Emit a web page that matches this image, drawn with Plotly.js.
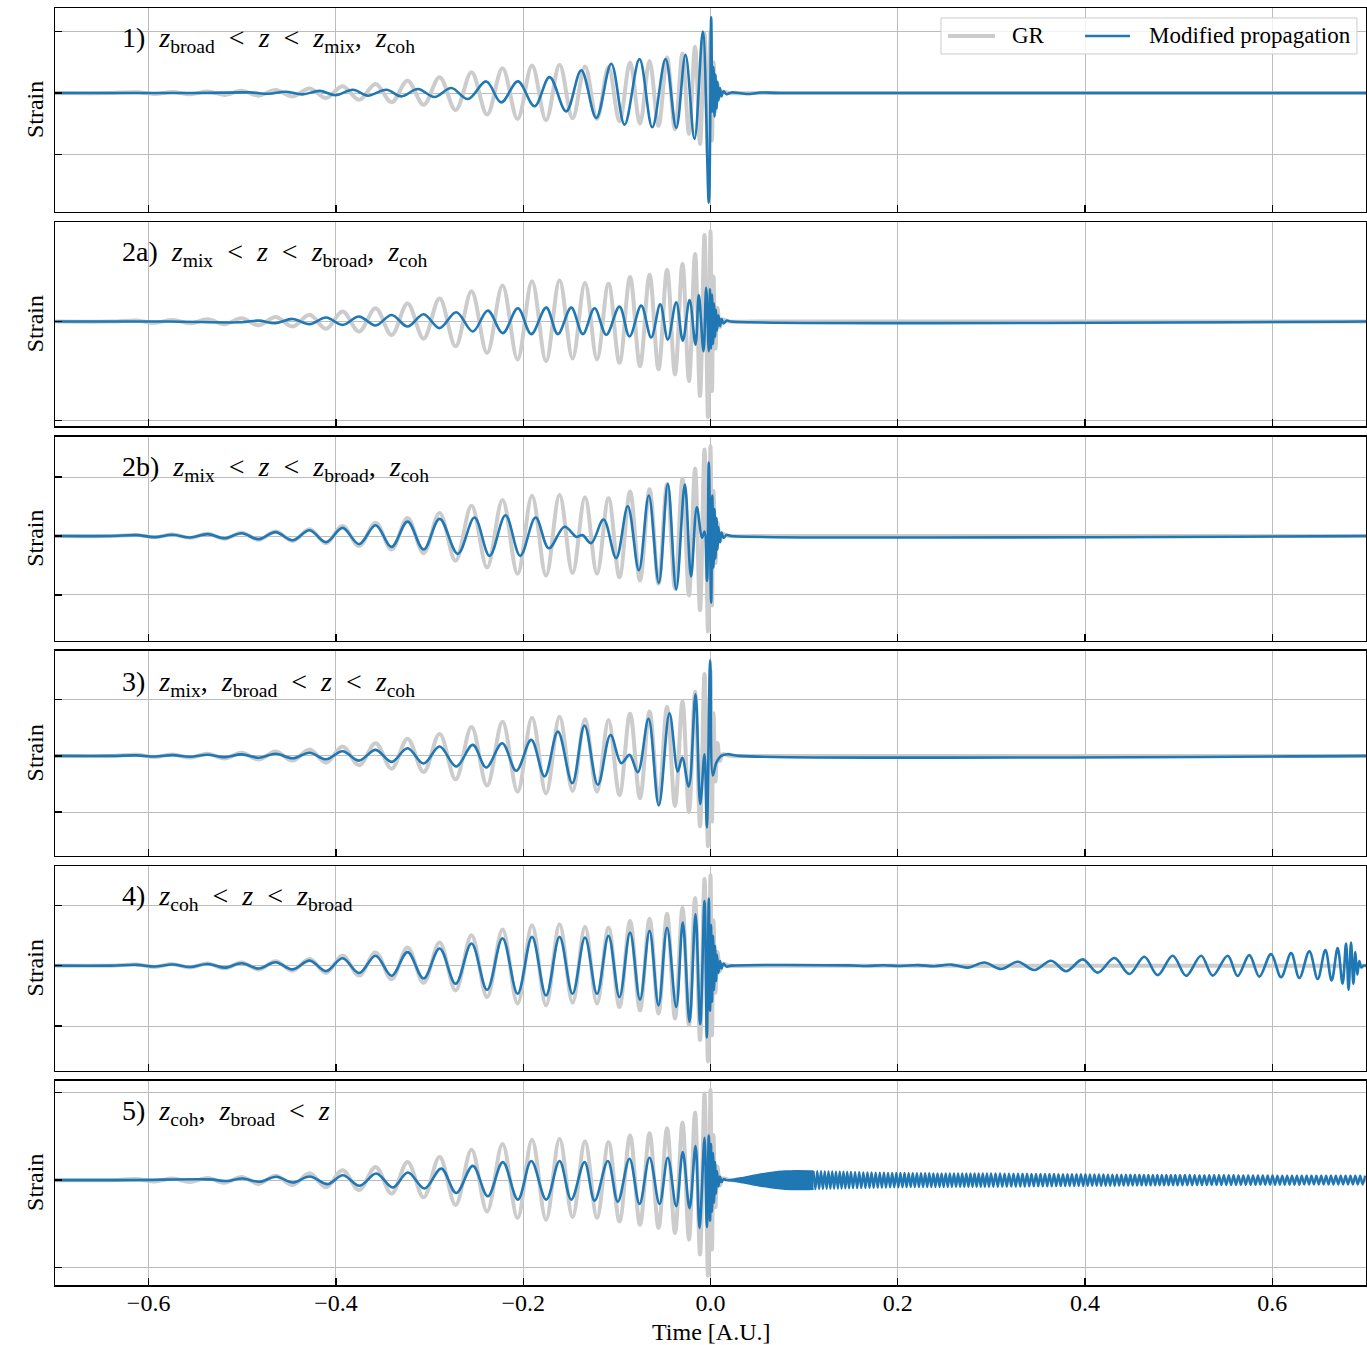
<!DOCTYPE html>
<html><head><meta charset="utf-8">
<script src="https://cdn.plot.ly/plotly-3.0.1.min.js"></script>
<style>body{margin:0;background:#fff}#chart{width:1367px;height:1345px}</style>
</head><body><div id="chart"></div>
<script>
// ---------- data (extrema; time in A.U., strain in units of the GR peak) ----------
const timeRange = [-0.7, 0.7];
const xTicks = [-0.6, -0.4, -0.2, 0.0, 0.2, 0.4, 0.6];
const LT = "&nbsp;&nbsp;&lt;&nbsp;&nbsp;";
const panelLabels = [
  "1)&nbsp; <i>z</i><sub>broad</sub>"+LT+"<i>z</i>"+LT+"<i>z</i><sub>mix</sub>,&nbsp; <i>z</i><sub>coh</sub>",
  "2a)&nbsp; <i>z</i><sub>mix</sub>"+LT+"<i>z</i>"+LT+"<i>z</i><sub>broad</sub>,&nbsp; <i>z</i><sub>coh</sub>",
  "2b)&nbsp; <i>z</i><sub>mix</sub>"+LT+"<i>z</i>"+LT+"<i>z</i><sub>broad</sub>,&nbsp; <i>z</i><sub>coh</sub>",
  "3)&nbsp; <i>z</i><sub>mix</sub>,&nbsp; <i>z</i><sub>broad</sub>"+LT+"<i>z</i>"+LT+"<i>z</i><sub>coh</sub>",
  "4)&nbsp; <i>z</i><sub>coh</sub>"+LT+"<i>z</i>"+LT+"<i>z</i><sub>broad</sub>",
  "5)&nbsp; <i>z</i><sub>coh</sub>,&nbsp; <i>z</i><sub>broad</sub>"+LT+"<i>z</i>"
];
const seriesNames = ["GR", "Modified propagation"];

// GR waveform
const grT = [-0.70,-0.64,-0.6128,-0.5936,-0.5744,-0.5557,-0.5370,-0.5189,-0.5007,-0.4826,-0.4644,-0.4463,-0.4281,-0.4105,-0.3929,-0.3753,-0.3576,-0.3406,-0.3235,-0.3064,-0.2893,-0.2722,-0.2552,-0.2386,-0.2221,-0.2060,-0.1906,-0.1756,-0.1612,-0.1473,-0.1340,-0.1212,-0.1089,-0.0972,-0.0859,-0.0753,-0.0651,-0.0555,-0.0464,-0.0379,-0.0299,-0.0230,-0.0165,-0.0112,-0.0064,-0.0027,0,0.0016,0.0032,0.0053,0.0075,0.0101,0.0128,0.0203,0.05,0.70];
const grH = [0,0,0.012,-0.014,0.017,-0.02,0.025,-0.03,0.036,-0.042,0.05,-0.055,0.075,-0.08,0.11,-0.11,0.147,-0.15,0.2,-0.19,0.256,-0.275,0.337,-0.348,0.4,-0.42,0.447,-0.44,0.458,-0.41,0.43,-0.42,0.42,-0.458,0.495,-0.495,0.52,-0.53,0.575,-0.586,0.64,-0.66,0.75,-0.824,0.96,-1.06,1.0,-0.77,0.5,-0.3,0.15,-0.06,0.02,0,0,0];

// Panel 1 modified propagation
const mp1T = [-0.70,-0.55,-0.4922,-0.4719,-0.4537,-0.4356,-0.4174,-0.4004,-0.3819,-0.3659,-0.3462,-0.3302,-0.3125,-0.2947,-0.2768,-0.2591,-0.2395,-0.2235,-0.2057,-0.1879,-0.1719,-0.1541,-0.1380,-0.1220,-0.1060,-0.0918,-0.0758,-0.0622,-0.0480,-0.0366,-0.0267,-0.0171,-0.0082,-0.0018,0.0007,0.0019,0.0032,0.0043,0.0053,0.0064,0.0075,0.0085,0.0101,0.0117,0.0139,0.0171,0.0224,0.031,0.0416,0.0544,0.0737,0.70];
const mp1H = [0,0,0.01,-0.012,0.02,-0.022,0.035,-0.035,0.054,-0.043,0.054,-0.054,0.065,-0.065,0.081,-0.097,0.188,-0.151,0.188,-0.215,0.258,-0.296,0.366,-0.403,0.473,-0.511,0.548,-0.554,0.548,-0.565,0.618,-0.742,0.995,-1.774,1.226,-0.3,0.42,-0.38,0.3,-0.25,0.18,-0.12,0.08,-0.05,0.03,-0.02,0.01,0,-0.016,0.008,0,0];

// Panel 2a
const mp2aT = [-0.70,-0.58,-0.5007,-0.4826,-0.4644,-0.4463,-0.4281,-0.4105,-0.3929,-0.3753,-0.3576,-0.3406,-0.3235,-0.3064,-0.2893,-0.2715,-0.2538,-0.2378,-0.2218,-0.2057,-0.1914,-0.1754,-0.1630,-0.1487,-0.1363,-0.1238,-0.1113,-0.0972,-0.0865,-0.0740,-0.0633,-0.0537,-0.0456,-0.0366,-0.0296,-0.0224,-0.0160,-0.0125,-0.0075,-0.0046,-0.0018,-0.0005,0.0005,0.0016,0.0027,0.0037,0.0048,0.0059,0.0069,0.0085,0.0101,0.0117,0.0139,0.0171,0.0224,0.70];
const mp2aH = [0,0,-0.008,0.01,-0.018,0.029,-0.029,0.044,-0.037,0.055,-0.044,0.073,-0.055,0.081,-0.073,0.103,-0.11,0.121,-0.128,0.147,-0.139,0.154,-0.139,0.154,-0.139,0.147,-0.147,0.165,-0.165,0.176,-0.176,0.19,-0.2,0.212,-0.212,0.238,-0.256,0.293,-0.33,0.374,-0.33,0.36,-0.3,0.3,-0.25,0.2,-0.17,0.13,-0.1,0.07,-0.05,0.03,-0.02,0.01,0,0];

// Panel 2b
const mp2bT = [-0.70,-0.64,-0.6128,-0.5936,-0.5744,-0.5557,-0.5370,-0.5189,-0.5007,-0.4826,-0.4644,-0.4463,-0.4281,-0.4105,-0.3929,-0.3753,-0.3576,-0.3406,-0.3235,-0.3064,-0.2893,-0.2698,-0.2520,-0.2359,-0.2189,-0.2032,-0.1868,-0.1726,-0.1559,-0.1431,-0.1367,-0.1274,-0.1142,-0.1007,-0.0883,-0.0765,-0.0659,-0.0552,-0.0456,-0.0366,-0.0274,-0.0208,-0.0146,-0.0091,-0.0064,-0.0037,-0.0018,0.0007,0.0019,0.0032,0.0043,0.0053,0.0064,0.0075,0.0085,0.0101,0.0117,0.0139,0.0171,0.0224,0.70];
const mp2bH = [0,0,0.01,-0.012,0.014,-0.017,0.021,-0.025,0.03,-0.035,0.043,-0.047,0.064,-0.068,0.09,-0.09,0.12,-0.12,0.16,-0.15,0.19,-0.198,0.205,-0.22,0.231,-0.22,0.205,-0.136,0.103,-0.01,0.01,-0.08,0.183,-0.245,0.33,-0.38,0.45,-0.52,0.58,-0.593,0.571,-0.45,0.32,-0.02,0.05,-0.5,0.817,-0.74,0.45,-0.35,0.3,-0.25,0.2,-0.15,0.1,-0.07,0.04,-0.02,0.01,0,0];

// Panel 3
const mp3T = [-0.70,-0.64,-0.6128,-0.5936,-0.5744,-0.5557,-0.5370,-0.5189,-0.5007,-0.4826,-0.4644,-0.4463,-0.4281,-0.4105,-0.3929,-0.3753,-0.3576,-0.3406,-0.3235,-0.3064,-0.2893,-0.2715,-0.2538,-0.2395,-0.2224,-0.2074,-0.1914,-0.1772,-0.1630,-0.1476,-0.1345,-0.1203,-0.1068,-0.0953,-0.0865,-0.0776,-0.0662,-0.0552,-0.0438,-0.0349,-0.0302,-0.0232,-0.0160,-0.0110,-0.0064,-0.0039,-0.0003,0.0025,0.0061,0.0114,0.0181,0.031,0.70];
const mp3H = [0,0,0.006,-0.007,0.009,-0.01,0.013,-0.015,0.018,-0.021,0.025,-0.028,0.037,-0.04,0.055,-0.055,0.07,-0.07,0.09,-0.09,0.11,-0.124,0.129,-0.136,0.148,-0.175,0.187,-0.241,0.284,-0.319,0.354,-0.339,0.245,-0.085,0.012,-0.191,0.433,-0.58,0.498,-0.183,-0.019,-0.358,0.72,-0.565,0.019,-0.838,1.12,-0.23,-0.085,0,0.02,0,0];

// Panel 4 (includes the delayed copy)
const mp4T = [-0.70,-0.64,-0.6128,-0.5936,-0.5744,-0.5557,-0.5370,-0.5189,-0.5007,-0.4826,-0.4644,-0.4463,-0.4281,-0.4105,-0.3929,-0.3753,-0.3576,-0.3406,-0.3235,-0.3064,-0.2893,-0.2722,-0.2552,-0.2386,-0.2221,-0.2060,-0.1906,-0.1756,-0.1612,-0.1473,-0.1340,-0.1212,-0.1089,-0.0972,-0.0859,-0.0753,-0.0651,-0.0555,-0.0464,-0.0366,-0.0296,-0.0224,-0.0160,-0.0110,-0.0064,-0.0039,-0.0018,-0.0005,0.0005,0.0016,0.0027,0.0037,0.0048,0.0059,0.0069,0.0085,0.0101,0.0117,0.0139,0.0171,0.0224,0.1484,0.1665,0.1847,0.2028,0.2213,0.2391,0.2570,0.2747,0.2925,0.3104,0.3281,0.3459,0.3637,0.3797,0.3975,0.4135,0.4313,0.4473,0.4633,0.4775,0.4936,0.5079,0.5239,0.5363,0.5523,0.5629,0.5754,0.5861,0.5986,0.6093,0.6200,0.6288,0.6395,0.6484,0.6566,0.6633,0.6697,0.6750,0.6787,0.6814,0.6840,0.6865,0.6886,0.6907,0.6929,0.6950,0.6971,0.70];
const mp4H = [0,0,0.009,-0.01,0.013,-0.015,0.019,-0.022,0.027,-0.031,0.038,-0.041,0.056,-0.06,0.082,-0.082,0.11,-0.112,0.15,-0.142,0.19,-0.2,0.245,-0.267,0.304,-0.311,0.319,-0.33,0.319,-0.311,0.311,-0.311,0.33,-0.348,0.366,-0.377,0.385,-0.44,0.42,-0.458,0.476,-0.623,0.568,-0.648,0.714,-0.795,0.744,-0.5,0.45,-0.4,0.33,-0.27,0.22,-0.17,0.12,-0.08,0.05,-0.03,0.02,-0.01,0,0.003,-0.003,0.004,-0.004,0.006,-0.006,0.012,-0.022,0.035,-0.037,0.044,-0.048,0.055,-0.062,0.07,-0.077,0.084,-0.092,0.099,-0.105,0.11,-0.112,0.11,-0.11,0.11,-0.114,0.117,-0.121,0.128,-0.128,0.139,-0.136,0.158,-0.147,0.172,-0.165,0.194,-0.2,0.245,-0.267,0.256,-0.2,0.15,-0.1,0.05,-0.02,0,0];

// Panel 5 (inspiral + merger)
const mp5T = [-0.70,-0.62,-0.5349,-0.5167,-0.4997,-0.4815,-0.4637,-0.4459,-0.4281,-0.4086,-0.3926,-0.3747,-0.3569,-0.3392,-0.3232,-0.3053,-0.2875,-0.2715,-0.2538,-0.2378,-0.2218,-0.2057,-0.1914,-0.1754,-0.1612,-0.1487,-0.1345,-0.1238,-0.1096,-0.0990,-0.0865,-0.0758,-0.0651,-0.0544,-0.0456,-0.0366,-0.0296,-0.0224,-0.0160,-0.0117,-0.0064,-0.0039,-0.0018,-0.0005,0.0005,0.0016,0.0027,0.0037,0.0048,0.0059,0.0069,0.0085,0.0101,0.0117,0.0139,0.0171];
const mp5H = [0,0,0.008,-0.01,0.018,-0.018,0.037,-0.026,0.04,-0.044,0.055,-0.062,0.073,-0.081,0.084,-0.092,0.128,-0.143,0.158,-0.179,0.2,-0.216,0.212,-0.216,0.212,-0.216,0.2,-0.227,0.212,-0.238,0.238,-0.264,0.249,-0.264,0.249,-0.289,0.311,-0.311,0.377,-0.531,0.469,-0.52,0.495,-0.45,0.4,-0.35,0.3,-0.25,0.2,-0.15,0.1,-0.07,0.04,-0.02,0.01,0];
// Panel 5 post-merger: dense onset read as an envelope band
const bandT = [0.015,0.024,0.035,0.05,0.065,0.08,0.092,0.11];
const bandEnv = [0,0.01,0.03,0.06,0.085,0.1,0.105,0.1];
// Panel 5 post-merger: resolved oscillation extrema
const tailT = [
0.1100,0.1120,0.1140,0.1160,0.1180,0.1200,0.1220,0.1240,0.1260,0.1280,
0.1300,0.1320,0.1340,0.1360,0.1380,0.1400,0.1420,0.1440,0.1460,0.1480,
0.1500,0.1522,0.1544,0.1566,0.1588,0.1610,0.1632,0.1654,0.1676,0.1698,
0.1720,0.1742,0.1764,0.1786,0.1808,0.1830,0.1852,0.1874,0.1896,0.1918,
0.1940,0.1962,0.1984,0.2006,0.2028,0.2050,0.2072,0.2094,0.2116,0.2138,
0.2160,0.2182,0.2204,0.2226,0.2248,0.2270,0.2292,0.2314,0.2336,0.2358,
0.2380,0.2402,0.2424,0.2446,0.2468,0.2490,0.2512,0.2534,0.2556,0.2578,
0.2600,0.2622,0.2644,0.2666,0.2688,0.2710,0.2732,0.2754,0.2776,0.2798,
0.2820,0.2842,0.2864,0.2886,0.2908,0.2930,0.2952,0.2974,0.2996,
0.3020,0.3044,0.3068,0.3092,0.3116,0.3140,0.3164,0.3188,0.3212,0.3236,
0.3260,0.3284,0.3308,0.3332,0.3356,0.3380,0.3404,0.3428,0.3452,0.3476,
0.3500,0.3524,0.3548,0.3572,0.3596,0.3620,0.3644,0.3668,0.3692,0.3716,
0.3740,0.3764,0.3788,0.3812,0.3836,0.3860,0.3884,0.3908,0.3932,0.3956,
0.3980,0.4004,0.4028,0.4052,0.4076,0.4100,0.4124,0.4148,0.4172,0.4196,
0.4220,0.4244,0.4268,0.4292,0.4316,0.4340,0.4364,0.4388,0.4412,0.4436,
0.4460,0.4484,0.4508,0.4532,0.4556,0.4580,0.4604,0.4628,0.4652,0.4676,
0.4700,0.4724,0.4748,0.4772,0.4796,0.4820,0.4844,0.4868,0.4892,0.4916,
0.4940,0.4964,0.4988,
0.5014,0.5040,0.5066,0.5092,0.5118,0.5144,0.5170,0.5196,0.5222,0.5248,
0.5274,0.5300,0.5326,0.5352,0.5378,0.5404,0.5430,0.5456,0.5482,0.5508,
0.5534,0.5560,0.5586,0.5612,0.5638,0.5664,0.5690,0.5716,0.5742,0.5768,
0.5794,0.5820,0.5846,0.5872,0.5898,0.5924,0.5950,0.5976,0.6002,0.6028,
0.6054,0.6080,0.6106,0.6132,0.6158,0.6184,0.6210,0.6236,0.6262,0.6288,
0.6314,0.6340,0.6366,0.6392,0.6418,0.6444,0.6470,0.6496,0.6522,0.6548,
0.6574,0.6600,0.6626,0.6652,0.6678,0.6704,0.6730,0.6756,0.6782,0.6808,
0.6834,0.6860,0.6886,0.6912,0.6938,0.6964,0.6990];
const tailH = [
0.1,-0.1,0.1,-0.099,0.099,-0.098,0.098,-0.097,0.097,-0.096,
0.096,-0.095,0.095,-0.094,0.094,-0.093,0.093,-0.092,0.092,-0.091,
0.09,-0.09,0.089,-0.089,0.088,-0.088,0.087,-0.087,0.086,-0.086,
0.085,-0.085,0.084,-0.084,0.083,-0.083,0.082,-0.082,0.081,-0.081,
0.08,-0.08,0.08,-0.08,0.079,-0.079,0.079,-0.079,0.078,-0.078,
0.078,-0.078,0.078,-0.078,0.077,-0.077,0.077,-0.077,0.077,-0.077,
0.076,-0.076,0.076,-0.076,0.076,-0.076,0.076,-0.076,0.075,-0.075,
0.075,-0.075,0.075,-0.075,0.075,-0.075,0.075,-0.075,0.075,-0.075,
0.075,-0.075,0.075,-0.075,0.075,-0.075,0.075,-0.075,0.075,
-0.074,0.074,-0.074,0.074,-0.073,0.073,-0.073,0.073,-0.072,0.072,
-0.072,0.072,-0.071,0.071,-0.071,0.071,-0.070,0.070,-0.070,0.070,
-0.069,0.069,-0.069,0.069,-0.068,0.068,-0.068,0.068,-0.067,0.067,
-0.067,0.067,-0.066,0.066,-0.066,0.066,-0.065,0.065,-0.065,0.065,
-0.065,0.065,-0.064,0.064,-0.064,0.064,-0.063,0.063,-0.063,0.063,
-0.062,0.062,-0.062,0.062,-0.062,0.062,-0.061,0.061,-0.061,0.061,
-0.060,0.060,-0.060,0.060,-0.060,0.060,-0.059,0.059,-0.059,0.059,
-0.059,0.059,-0.058,0.058,-0.058,0.058,-0.058,0.058,-0.058,0.058,
-0.058,0.058,-0.058,
0.057,-0.057,0.057,-0.057,0.057,-0.057,0.056,-0.056,0.056,-0.056,
0.056,-0.056,0.055,-0.055,0.055,-0.055,0.055,-0.055,0.054,-0.054,
0.054,-0.054,0.054,-0.054,0.053,-0.053,0.053,-0.053,0.053,-0.053,
0.053,-0.053,0.052,-0.052,0.052,-0.052,0.052,-0.052,0.052,-0.052,
0.051,-0.051,0.051,-0.051,0.051,-0.051,0.051,-0.051,0.051,-0.051,
0.050,-0.050,0.050,-0.050,0.050,-0.050,0.050,-0.050,0.050,-0.050,
0.050,-0.050,0.050,-0.050,0.050,-0.050,0.050,-0.050,0.050,-0.050,
0.050,-0.050,0.050,-0.050,0.050,-0.050,0.050];

// ---------- layout ----------
const FONT = "Liberation Serif, 'Times New Roman', serif";
const BLUE = '#1f77b4', GREY = '#cccccc';
const domains = [[0.8403,1.0],[0.6723,0.8324],[0.5045,0.6643],[0.3362,0.4965],[0.1678,0.3281],[0.0,0.16]];
const yRanges = [[-1.924,1.376],[-1.163,1.103],[-1.163,1.103],[-1.169,1.229],[-1.163,1.103],[-1.163,1.103]];
const yTicks = [[-1,0,1],[-1.10,0],[-0.654,0,0.654],[-0.658,0,0.658],[-0.668,0,0.668],[-0.972,0,0.972]];
const labelY = [0.975,0.8074,0.6392,0.4714,0.3031,0.1349];
const mpT = [mp1T,mp2aT,mp2bT,mp3T,mp4T,mp5T];
const mpH = [mp1H,mp2aH,mp2bH,mp3H,mp4H,mp5H];

const traces = [];
const layout = {
  width:1367, height:1345, paper_bgcolor:'#fff', plot_bgcolor:'#fff',
  margin:{l:55,r:1,t:8,b:60},
  font:{family:FONT, color:'#000', size:22},
  showlegend:false,
  annotations:[], shapes:[]
};
const lineOpts = (c,w) => ({color:c, width:w, shape:'spline', smoothing:1, simplify:false});
for (let i=0;i<6;i++){
  const s = i===0 ? '' : String(i+1);
  traces.push({x:grT, y:grH, xaxis:'x'+s, yaxis:'y'+s, mode:'lines', name:seriesNames[0],
    hoverinfo:'skip', line:lineOpts(GREY,4.0)});
  traces.push({x:mpT[i], y:mpH[i], xaxis:'x'+s, yaxis:'y'+s, mode:'lines', name:seriesNames[1],
    hoverinfo:'skip', line:lineOpts(BLUE,2.6)});
  layout['xaxis'+s] = {domain:[0,1], anchor:'y'+s, range:timeRange, tickvals:xTicks, tickformat:'.1f',
    showticklabels:i===5, ticks:'inside', ticklen:7, tickwidth:1.3, tickcolor:'#000',
    showgrid:true, gridcolor:'#bcbcbc', gridwidth:1, zeroline:false,
    showline:true, linecolor:'#000', linewidth:1.5, mirror:true, ticklabelstandoff:-4,
    tickfont:{family:FONT,size:24,color:'#000'}};
  layout['yaxis'+s] = {domain:domains[i], anchor:'x'+s, range:yRanges[i], tickvals:yTicks[i],
    showticklabels:false, ticks:'inside', ticklen:7, tickwidth:1.3, tickcolor:'#000',
    showgrid:true, gridcolor:'#bcbcbc', gridwidth:1, zeroline:false,
    showline:true, linecolor:'#000', linewidth:1.5, mirror:true};
  layout.annotations.push({xref:'paper', yref:'paper', x:0.0495, y:labelY[i], xanchor:'left', yanchor:'middle',
    text:panelLabels[i], showarrow:false, font:{family:FONT,size:28,color:'#000'}});
  layout.annotations.push({xref:'paper', yref:'paper', x:-0.0152, y:(domains[i][0]+domains[i][1])/2,
    xanchor:'center', yanchor:'middle', textangle:-90, text:'Strain', showarrow:false,
    font:{family:FONT,size:24,color:'#000'}});
}
// post-merger signal in panel 5)
traces.push({x:bandT, y:bandEnv, xaxis:'x6', yaxis:'y6', mode:'lines', hoverinfo:'skip', line:lineOpts(BLUE,1.5)});
traces.push({x:bandT, y:bandEnv.map(v=>-v), xaxis:'x6', yaxis:'y6', mode:'lines', hoverinfo:'skip',
  fill:'tonexty', fillcolor:BLUE, line:lineOpts(BLUE,1.5)});
traces.push({x:tailT, y:tailH, xaxis:'x6', yaxis:'y6', mode:'lines', hoverinfo:'skip', line:lineOpts(BLUE,2.3)});

// legend box (drawn in the top panel, matplotlib style)
const legY = 0.9781;
layout.shapes.push({type:'rect', xref:'paper', yref:'paper', x0:0.6758, x1:0.9931, y0:0.9640, y1:0.9922,
  line:{color:'#cccccc', width:1}, fillcolor:'rgba(255,255,255,0.8)', layer:'above'});
layout.shapes.push({type:'line', xref:'paper', yref:'paper', x0:0.6812, x1:0.7170, y0:legY, y1:legY,
  line:{color:GREY, width:4.0}, layer:'above'});
layout.shapes.push({type:'line', xref:'paper', yref:'paper', x0:0.7857, x1:0.8200, y0:legY, y1:legY,
  line:{color:BLUE, width:2.6}, layer:'above'});
layout.annotations.push({xref:'paper', yref:'paper', x:0.7285, y:legY, xanchor:'left', yanchor:'middle',
  text:seriesNames[0], showarrow:false, font:{family:FONT,size:23,color:'#000'}});
layout.annotations.push({xref:'paper', yref:'paper', x:0.8330, y:legY, xanchor:'left', yanchor:'middle',
  text:seriesNames[1], showarrow:false, font:{family:FONT,size:23,color:'#000'}});

layout.annotations.push({xref:'paper', yref:'paper', x:0.5, y:-0.0368, xanchor:'center', yanchor:'middle',
  text:'Time [A.U.]', showarrow:false, font:{family:FONT,size:24,color:'#000'}});

Plotly.newPlot('chart', traces, layout, {staticPlot:true, displayModeBar:false});
</script></body></html>
